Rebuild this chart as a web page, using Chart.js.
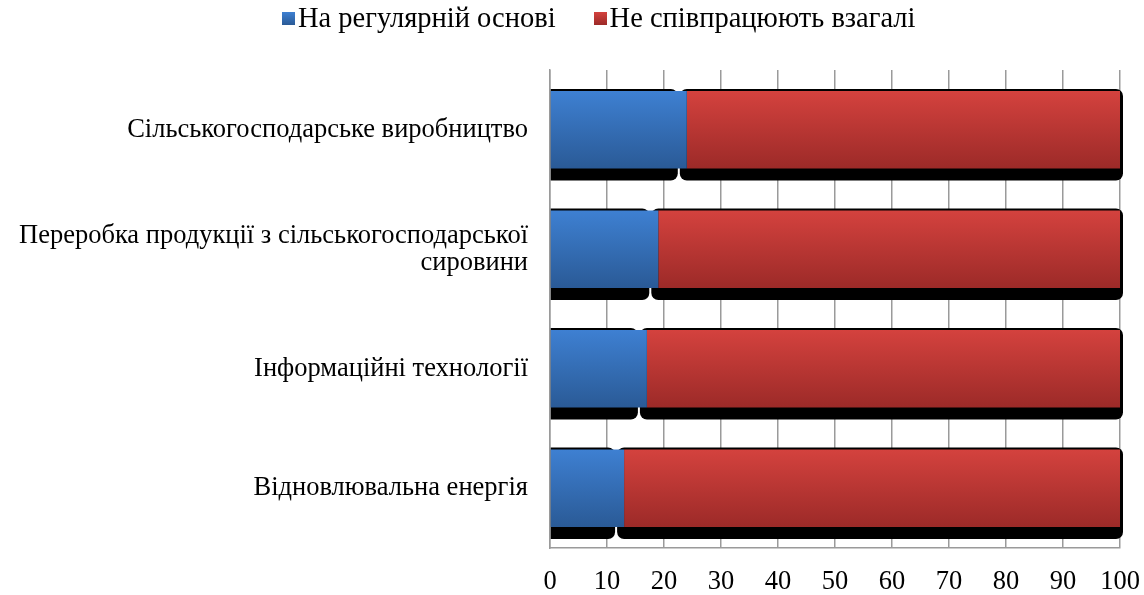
<!DOCTYPE html>
<html>
<head>
<meta charset="utf-8">
<script src="https://cdn.jsdelivr.net/npm/chart.js@4/dist/chart.umd.min.js"></script>
<style>
  html, body { margin: 0; padding: 0; background: #fff; }
  #wrap { position: relative; width: 1144px; height: 595px; }
  #legend { position: absolute; left: 282px; top: 2px; display: flex; align-items: center;
            font-family: 'Liberation Serif', 'Times New Roman', serif; font-size: 28.5px; color: #000; white-space: nowrap; }
  #legend .item { display: flex; align-items: center; margin-right: 38px; }
  #legend .box { width: 13px; height: 13px; margin-right: 3px; }
</style>
</head>
<body>
<div id="wrap">
  <canvas id="chart" width="1144" height="595"></canvas>
  <div id="legend"></div>
</div>
<script>
const categories = [
    "Сільськогосподарське виробництво",
    ["Переробка продукції з сільськогосподарської", "сировини"],
    "Інформаційні технології",
    "Відновлювальна енергія"
];
const regularValues = [24, 19, 17, 13];
const noneValues = [76, 81, 83, 87];
const seriesNames = ["На регулярній основі", "Не співпрацюють взагалі"];
const xTicks = [0, 10, 20, 30, 40, 50, 60, 70, 80, 90, 100];

const FONT = "'Liberation Serif', 'Times New Roman', serif";
const BAR_PCT = 0.65;
const COLORS = [["#3e80d2", "#2a5a96"], ["#d4423e", "#9c2a28"]];

// vertical gradient per bar, worked out from the category scale
function barFill(topColor, bottomColor) {
    return function(context) {
        const chart = context.chart;
        const yScale = chart.scales.y;
        if (!yScale || context.dataIndex === undefined) return topColor;
        const mid = yScale.getPixelForValue(context.dataIndex);
        const half = (yScale.height / categories.length) * BAR_PCT / 2;
        if (!isFinite(mid) || !isFinite(half)) return topColor;
        const g = chart.ctx.createLinearGradient(0, mid - half, 0, mid + half);
        g.addColorStop(0, topColor);
        g.addColorStop(1, bottomColor);
        return g;
    };
}

// black drop shadow behind each bar
const shadowPlugin = {
    id: "barShadow",
    beforeDatasetsDraw(chart) {
        const ctx = chart.ctx;
        ctx.save();
        ctx.fillStyle = "#000";
        chart.data.datasets.forEach((ds, di) => {
            const meta = chart.getDatasetMeta(di);
            const last = di === chart.data.datasets.length - 1;
            meta.data.forEach(el => {
                const h = el.height / 2;
                const x0 = el.base - (di > 0 ? 7 : 0);
                const x1 = el.x + (last ? 3 : -9);
                const y0 = el.y - h - 2;
                const y1 = el.y + h + 12;
                ctx.beginPath();
                ctx.roundRect(x0, y0, x1 - x0, y1 - y0, di > 0 ? 7 : [0, 7, 7, 0]);
                ctx.fill();
            });
        });
        ctx.restore();
    }
};

// html legend
const legendEl = document.getElementById("legend");
seriesNames.forEach((name, i) => {
    const item = document.createElement("div");
    item.className = "item";
    const box = document.createElement("span");
    box.className = "box";
    box.style.background = `linear-gradient(${COLORS[i][0]}, ${COLORS[i][1]})`;
    const txt = document.createElement("span");
    txt.textContent = name;
    item.appendChild(box);
    item.appendChild(txt);
    legendEl.appendChild(item);
});

new Chart(document.getElementById("chart").getContext("2d"), {
    type: "bar",
    data: {
        labels: categories,
        datasets: seriesNames.map((name, i) => ({
            label: name,
            data: i === 0 ? regularValues : noneValues,
            backgroundColor: barFill(COLORS[i][0], COLORS[i][1]),
            borderWidth: 0
        }))
    },
    options: {
        indexAxis: "y",
        responsive: false,
        animation: false,
        categoryPercentage: 1,
        barPercentage: BAR_PCT,
        layout: { padding: { top: 70, right: 24, bottom: 2, left: 0 } },
        scales: {
            x: {
                stacked: true,
                min: 0,
                max: 100,
                afterBuildTicks(scale) {
                    scale.ticks = xTicks.map(v => ({ value: v }));
                },
                afterFit(scale) {
                    scale.height = 45;
                    scale.paddingLeft = 0;
                    scale.paddingRight = 0;
                },
                grid: { color: "#9a9a9a", lineWidth: 1.5, drawTicks: false },
                border: { color: "#9a9a9a", width: 1.5 },
                ticks: { color: "#000", padding: 18, maxRotation: 0, font: { family: FONT, size: 26.5 } }
            },
            y: {
                stacked: true,
                afterFit(scale) { scale.width = 550; },
                grid: { display: false },
                border: { color: "#9a9a9a", width: 1.5 },
                ticks: { color: "#000", padding: 14, font: { family: FONT, size: 26.5, lineHeight: 1.03 } }
            }
        },
        plugins: {
            legend: { display: false },
            tooltip: { enabled: false }
        }
    },
    plugins: [shadowPlugin]
});
</script>
</body>
</html>
